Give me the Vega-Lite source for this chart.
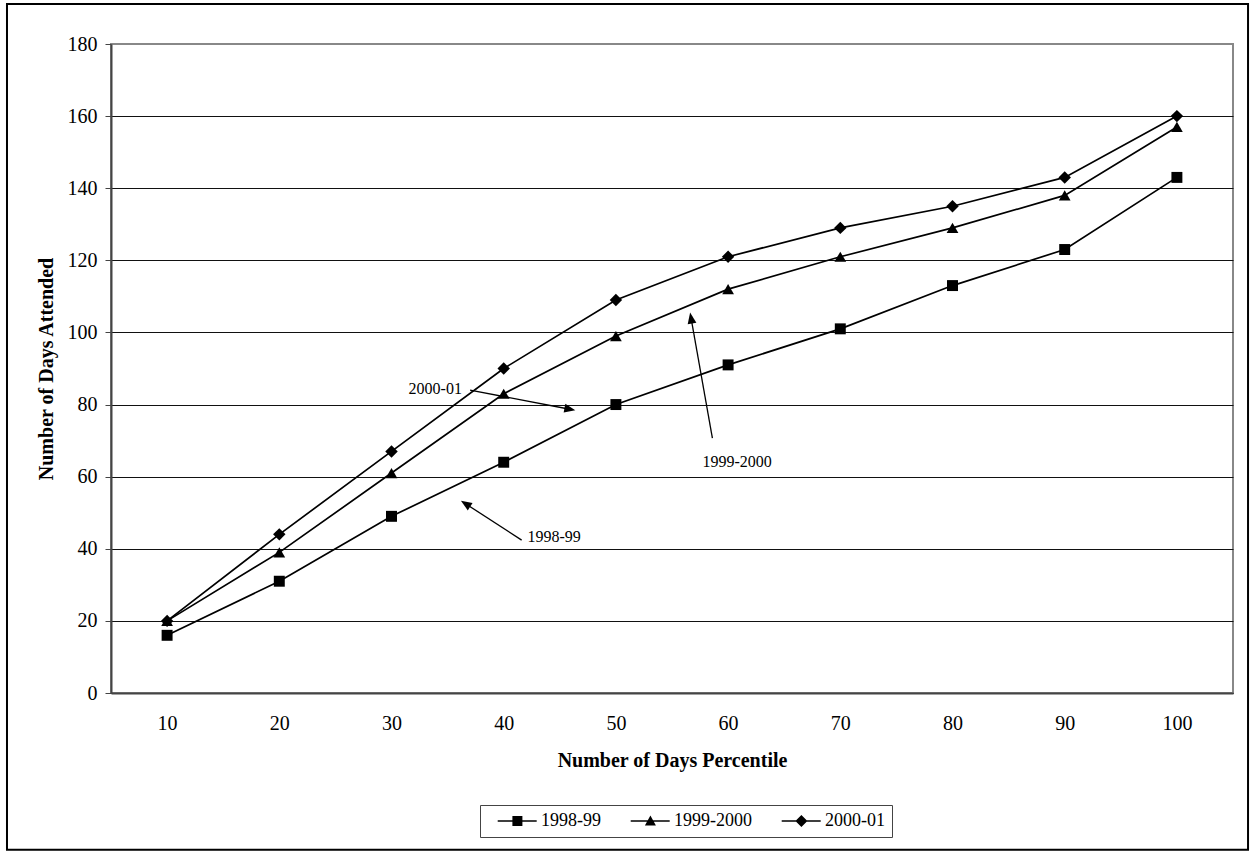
{
  "$schema": "https://vega.github.io/schema/vega-lite/v6.json",
  "width": 1122,
  "height": 649,
  "autosize": {"type": "none"},
  "padding": {"left": 111, "top": 44, "right": 22, "bottom": 163},
  "background": "white",
  "config": {
    "font": "Liberation Serif",
    "view": {"stroke": "#888", "strokeWidth": 2},
    "axis": {
      "labelFont": "Liberation Serif",
      "titleFont": "Liberation Serif",
      "labelColor": "black",
      "titleColor": "black",
      "labelFontSize": 20,
      "titleFontSize": 20,
      "titleFontWeight": "bold"
    },
    "legend": {
      "labelFont": "Liberation Serif",
      "labelFontSize": 18,
      "labelColor": "black"
    }
  },
  "datasets": {
    "attendance": [
      {"pct": 10, "days": 16, "series": "1998-99"},
      {"pct": 20, "days": 31, "series": "1998-99"},
      {"pct": 30, "days": 49, "series": "1998-99"},
      {"pct": 40, "days": 64, "series": "1998-99"},
      {"pct": 50, "days": 80, "series": "1998-99"},
      {"pct": 60, "days": 91, "series": "1998-99"},
      {"pct": 70, "days": 101, "series": "1998-99"},
      {"pct": 80, "days": 113, "series": "1998-99"},
      {"pct": 90, "days": 123, "series": "1998-99"},
      {"pct": 100, "days": 143, "series": "1998-99"},
      {"pct": 10, "days": 20, "series": "1999-2000"},
      {"pct": 20, "days": 39, "series": "1999-2000"},
      {"pct": 30, "days": 61, "series": "1999-2000"},
      {"pct": 40, "days": 83, "series": "1999-2000"},
      {"pct": 50, "days": 99, "series": "1999-2000"},
      {"pct": 60, "days": 112, "series": "1999-2000"},
      {"pct": 70, "days": 121, "series": "1999-2000"},
      {"pct": 80, "days": 129, "series": "1999-2000"},
      {"pct": 90, "days": 138, "series": "1999-2000"},
      {"pct": 100, "days": 157, "series": "1999-2000"},
      {"pct": 10, "days": 20, "series": "2000-01"},
      {"pct": 20, "days": 44, "series": "2000-01"},
      {"pct": 30, "days": 67, "series": "2000-01"},
      {"pct": 40, "days": 90, "series": "2000-01"},
      {"pct": 50, "days": 109, "series": "2000-01"},
      {"pct": 60, "days": 121, "series": "2000-01"},
      {"pct": 70, "days": 129, "series": "2000-01"},
      {"pct": 80, "days": 135, "series": "2000-01"},
      {"pct": 90, "days": 143, "series": "2000-01"},
      {"pct": 100, "days": 160, "series": "2000-01"}
    ],
    "notes": [
      {"label": "2000-01", "x": 37.0, "y": 84.0, "x2": 45.9, "y2": 78.7, "tx": 33.9, "ty": 84.3},
      {"label": "1999-2000", "x": 58.6, "y": 70.7, "x2": 56.7, "y2": 104.0, "tx": 60.8, "ty": 64.1},
      {"label": "1998-99", "x": 41.6, "y": 42.4, "x2": 36.6, "y2": 52.5, "tx": 44.5, "ty": 43.3}
    ]
  },
  "layer": [
    {
      "data": {"name": "attendance"},
      "mark": {"type": "line", "stroke": "black", "strokeWidth": 1.7},
      "encoding": {
        "x": {
          "field": "pct",
          "type": "quantitative",
          "scale": {"domain": [5, 105], "nice": false, "zero": false},
          "axis": {
            "title": "Number of Days Percentile",
            "values": [10, 20, 30, 40, 50, 60, 70, 80, 90, 100],
            "ticks": false,
            "grid": false,
            "domainColor": "#444",
            "domainWidth": 2,
            "labelBaseline": "middle",
            "labelPadding": 30,
            "titleBaseline": "middle",
            "titleY": 67
          }
        },
        "y": {
          "field": "days",
          "type": "quantitative",
          "scale": {"domain": [0, 180], "nice": false},
          "axis": {
            "title": "Number of Days Attended",
            "values": [0, 20, 40, 60, 80, 100, 120, 140, 160, 180],
            "grid": true,
            "gridColor": {"condition": {"test": "datum.value === 180", "value": "#888"}, "value": "#111"},
            "gridWidth": 1,
            "domainColor": "#444",
            "domainWidth": 2,
            "tickColor": "#444",
            "tickSize": 6,
            "labelPadding": 8,
            "titleBaseline": "middle",
            "titleX": -65
          }
        },
        "detail": {"field": "series"}
      }
    },
    {
      "data": {"name": "attendance"},
      "mark": {"type": "point", "filled": true, "color": "black", "opacity": 1},
      "encoding": {
        "x": {"field": "pct", "type": "quantitative"},
        "y": {"field": "days", "type": "quantitative"},
        "shape": {
          "field": "series",
          "scale": {"domain": ["1998-99", "1999-2000", "2000-01"], "range": ["square", "triangle-up", "diamond"]},
          "legend": null
        },
        "size": {
          "field": "series",
          "type": "nominal",
          "scale": {"domain": ["1998-99", "1999-2000", "2000-01"], "range": [120, 155, 180]},
          "legend": null
        }
      }
    },
    {
      "data": {"name": "attendance"},
      "transform": [{"filter": "false"}],
      "mark": {"type": "point", "filled": true, "fill": "black", "stroke": "black", "strokeWidth": 0.5, "size": 100, "opacity": 1},
      "encoding": {
        "x": {"field": "pct", "type": "quantitative"},
        "y": {"field": "days", "type": "quantitative"},
        "shape": {
          "field": "series",
          "scale": {
            "domain": ["1998-99", "1999-2000", "2000-01"],
            "range": [
              "M0.34,-0.16H8.14V0.16H0.34Z M3.28,-1H5.28V1H3.28Z",
              "M0.34,-0.16H8.14V0.16H0.34Z M4.28,-1.1L5.38,0.9H3.18Z",
              "M0.34,-0.16H8.14V0.16H0.34Z M4.28,-1.2L5.48,0L4.28,1.2L3.08,0Z"
            ]
          },
          "legend": {
            "title": null,
            "orient": "none",
            "direction": "horizontal",
            "legendX": 369,
            "legendY": 761,
            "padding": 7,
            "strokeColor": "#444",
            "fillColor": "white",
            "symbolSize": 100,
            "symbolFillColor": "black",
            "symbolStrokeColor": "black",
            "symbolStrokeWidth": 0.5,
            "labelOffset": 36,
            "columnPadding": 19
          }
        }
      }
    },
    {
      "data": {"name": "notes"},
      "mark": {"type": "rule", "stroke": "black", "strokeWidth": 1.3},
      "encoding": {
        "x": {"field": "x", "type": "quantitative"},
        "y": {"field": "y", "type": "quantitative"},
        "x2": {"field": "x2"},
        "y2": {"field": "y2"}
      }
    },
    {
      "data": {"name": "notes"},
      "mark": {"type": "text", "font": "Liberation Serif", "fontSize": 16, "color": "black"},
      "encoding": {
        "x": {"field": "tx", "type": "quantitative"},
        "y": {"field": "ty", "type": "quantitative"},
        "text": {"field": "label"}
      }
    },
    {
      "data": {"name": "notes"},
      "transform": [{"filter": "datum.label === '2000-01'"}],
      "mark": {"type": "point", "shape": "M1,0L-1,-0.8L-1,0.8Z", "filled": true, "color": "black", "opacity": 1, "size": 121, "angle": 11},
      "encoding": {
        "x": {"field": "x2", "type": "quantitative"},
        "y": {"field": "y2", "type": "quantitative"}
      }
    },
    {
      "data": {"name": "notes"},
      "transform": [{"filter": "datum.label === '1999-2000'"}],
      "mark": {"type": "point", "shape": "M1,0L-1,-0.8L-1,0.8Z", "filled": true, "color": "black", "opacity": 1, "size": 121, "angle": 260},
      "encoding": {
        "x": {"field": "x2", "type": "quantitative"},
        "y": {"field": "y2", "type": "quantitative"}
      }
    },
    {
      "data": {"name": "notes"},
      "transform": [{"filter": "datum.label === '1998-99'"}],
      "mark": {"type": "point", "shape": "M1,0L-1,-0.8L-1,0.8Z", "filled": true, "color": "black", "opacity": 1, "size": 121, "angle": 213},
      "encoding": {
        "x": {"field": "x2", "type": "quantitative"},
        "y": {"field": "y2", "type": "quantitative"}
      }
    },
    {
      "data": {"values": [{}]},
      "mark": {"type": "rect", "fill": "transparent", "stroke": "black", "strokeWidth": 2, "clip": false},
      "encoding": {
        "x": {"datum": -4.27, "type": "quantitative"},
        "x2": {"datum": 106.34},
        "y": {"datum": 191.07, "type": "quantitative"},
        "y2": {"datum": -43.5}
      }
    }
  ],
  "resolve": {"scale": {"shape": "independent"}}
}
